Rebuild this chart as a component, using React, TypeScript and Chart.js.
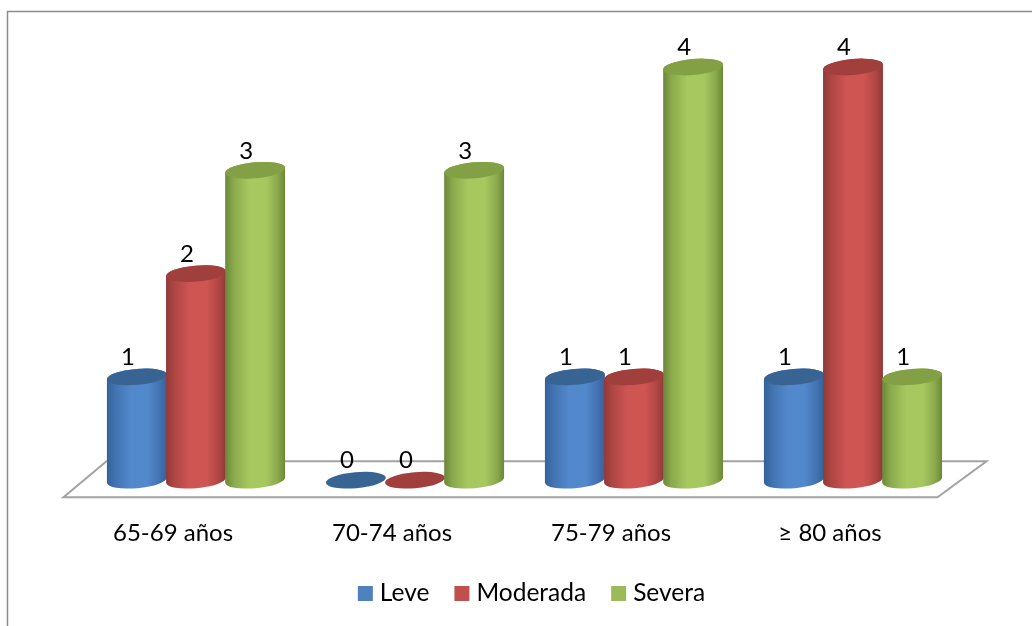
import React, { useEffect, useRef } from "react";
import { Chart, registerables } from "chart.js";

Chart.register(...registerables);

const categories = ["65-69 años", "70-74 años", "75-79 años", "≥ 80 años"];
const leve = [1, 0, 1, 1];
const moderada = [2, 0, 1, 4];
const severa = [3, 3, 4, 1];

const FONT = "Lato, sans-serif";
const TILT = (-5 * Math.PI) / 180;
const RY = 8;

type Tone = { edge: string; shade: string; mid: string; cap: string };
const tones: Record<string, Tone> = {
  Leve: { edge: "#33619a", shade: "#4273b0", mid: "#5288cc", cap: "#386494" },
  Moderada: { edge: "#8e3a38", shade: "#ae4643", mid: "#cf5553", cap: "#a03f3c" },
  Severa: { edge: "#6b863a", shade: "#8aa94c", mid: "#a6c85f", cap: "#83a044" },
};

// Paints each bar element as an upright cylinder with a shaded side and a darker cap.
function drawCylinder(ctx: CanvasRenderingContext2D, x: number, top: number, base: number, rx: number, tone: Tone) {
  if (base - top > 0.5) {
    const side = ctx.createLinearGradient(x - rx, 0, x + rx, 0);
    side.addColorStop(0, tone.edge);
    side.addColorStop(0.14, tone.shade);
    side.addColorStop(0.4, tone.mid);
    side.addColorStop(0.68, tone.mid);
    side.addColorStop(0.88, tone.shade);
    side.addColorStop(1, tone.edge);
    ctx.beginPath();
    ctx.ellipse(x, base, rx, RY, TILT, 0, Math.PI);
    ctx.ellipse(x, top, rx, RY, TILT, Math.PI, 0);
    ctx.closePath();
    ctx.fillStyle = side;
    ctx.fill();
  }
  ctx.beginPath();
  ctx.ellipse(x, top, rx, RY, TILT, 0, Math.PI * 2);
  ctx.fillStyle = tone.cap;
  ctx.fill();
}

const scenePlugin = {
  id: "scene",
  beforeDatasetsDraw(chart: any) {
    const { ctx, chartArea } = chart;
    const { left, right, bottom } = chartArea;
    // Outer frame, open on the right and bottom where it leaves the canvas.
    ctx.save();
    ctx.strokeStyle = "#8c8c8c";
    ctx.lineWidth = 1.5;
    ctx.beginPath();
    ctx.moveTo(7.5, 626);
    ctx.lineTo(7.5, 11.5);
    ctx.lineTo(1032, 11.5);
    ctx.stroke();
    // Floor of the 3D plot.
    ctx.strokeStyle = "#a3a3a3";
    ctx.lineWidth = 2;
    ctx.beginPath();
    ctx.moveTo(left - 23, bottom + 17);
    ctx.lineTo(right - 25, bottom + 17);
    ctx.lineTo(right + 24, bottom - 19);
    ctx.lineTo(left + 20, bottom - 19);
    ctx.closePath();
    ctx.stroke();
    ctx.restore();
  },
  beforeDatasetDraw() {
    return false;
  },
  afterDatasetsDraw(chart: any) {
    const { ctx, data } = chart;
    ctx.save();
    data.datasets.forEach((ds: any, i: number) => {
      const tone = tones[ds.label];
      chart.getDatasetMeta(i).data.forEach((bar: any) => {
        drawCylinder(ctx, bar.x, bar.y, bar.base, bar.width / 2 + 0.5, tone);
      });
    });
    ctx.fillStyle = "#000";
    ctx.font = `24px ${FONT}`;
    ctx.textAlign = "center";
    ctx.textBaseline = "middle";
    data.datasets.forEach((ds: any, i: number) => {
      chart.getDatasetMeta(i).data.forEach((bar: any, j: number) => {
        ctx.fillText(String(ds.data[j]), bar.x - 9, bar.y - 19.5);
      });
    });
    // Legend row.
    ctx.font = `24.5px ${FONT}`;
    ctx.textAlign = "left";
    const widths = data.datasets.map((ds: any) => ctx.measureText(ds.label).width);
    const total = widths.reduce((a: number, w: number) => a + 22 + w, 0) + 25 * (widths.length - 1);
    let x = 531.5 - total / 2;
    data.datasets.forEach((ds: any, i: number) => {
      ctx.fillStyle = ds.backgroundColor;
      ctx.fillRect(x, 586, 15, 15);
      ctx.fillStyle = "#000";
      ctx.fillText(ds.label, x + 22, 593);
      x += 22 + widths[i] + 25;
    });
    ctx.restore();
  },
};

export default function App() {
  const ref = useRef<HTMLCanvasElement>(null);
  useEffect(() => {
    const chart = new Chart(ref.current!, {
      type: "bar",
      data: {
        labels: categories,
        datasets: [
          { label: "Leve", data: leve, backgroundColor: "#4f81bd" },
          { label: "Moderada", data: moderada, backgroundColor: "#c0504d" },
          { label: "Severa", data: severa, backgroundColor: "#9bbb59" },
        ],
      },
      options: {
        animation: false,
        responsive: false,
        layout: { padding: { left: 86.5, right: 69.5, top: 67, bottom: 47 } },
        datasets: { bar: { categoryPercentage: 0.81, barPercentage: 1 } },
        plugins: { legend: { display: false }, tooltip: { enabled: false } },
        scales: {
          x: {
            grid: { display: false },
            border: { display: false },
            ticks: { color: "#000", font: { family: FONT, size: 24 }, labelOffset: -23, padding: 31, maxRotation: 0 },
          },
          y: { display: false, min: 0, max: 4 },
        },
      },
      plugins: [scenePlugin],
    });
    return () => chart.destroy();
  }, []);
  return (
    <div style={{ position: "fixed", left: 0, top: 0, width: 1032, height: 626, background: "#fff" }}>
      <canvas ref={ref} width={1032} height={626} style={{ display: "block" }} />
    </div>
  );
}
